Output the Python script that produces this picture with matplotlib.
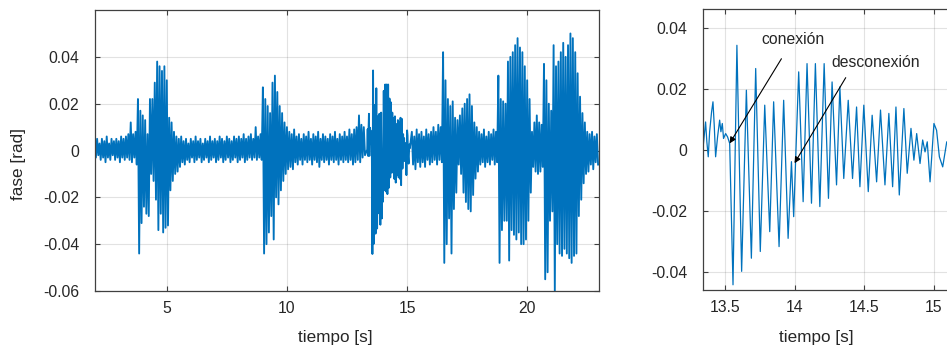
import numpy as np
import matplotlib
matplotlib.use("Agg")
import matplotlib.pyplot as plt

plt.rcParams['font.family'] = ['Liberation Sans', 'DejaVu Sans']

BLUE = '#0072BD'
AXC = '#262626'

# left panel: upper / lower extremes (mrad) in 0.1 s bins
# segment A: 2.0 .. 13.2 s
hi_a = [4, 5, 3, 5, 4, 6, 3, 5, 4, 5, 4, 6, 5, 6, 7, 12, 7, 8,
        22, 17, 15, 13, 7, 22, 22, 29, 38, 36, 34, 36, 30, 14, 12, 8, 6, 5,
        6, 4, 5, 3, 5, 4, 6, 4, 5, 3, 5, 4, 6, 4, 5, 4, 6, 5, 4, 6, 5, 4, 6, 5,
        6, 5, 7, 5, 6, 7, 5, 10, 6, 7,
        27, 22, 19, 16, 29, 32, 25, 19, 16, 12, 10, 8, 7, 9, 6, 7, 5, 7, 6, 8,
        5, 7, 6, 8, 5, 7, 6, 5, 7, 6, 8, 5, 7, 6, 8, 6, 9, 7, 9, 10, 15, 11, 10]
lo_a = [-3, -2, -4, -3, -5, -3, -4, -2, -4, -3, -5, -3, -4, -3, -4, -5, -3, -6,
        -44, -31, -24, -27, -28, -10, -13, -21, -34, -27, -35, -33, -32, -17, -13, -10, -9, -7,
        -5, -6, -4, -5, -3, -5, -4, -3, -5, -4, -3, -5, -4, -3, -5, -4, -3, -5, -4, -3, -5, -4, -3, -5,
        -4, -3, -5, -4, -3, -4, -3, -4, -3, -4,
        -44, -40, -35, -28, -38, -20, -23, -17, -13, -10, -8, -7, -8, -5, -6, -4, -6, -4, -5, -4,
        -6, -4, -5, -7, -4, -5, -4, -6, -4, -5, -4, -6, -4, -5, -4, -5, -4, -6, -5, -4, -5, -3, -2]
# segment C: 15.2 .. 22.9 s
hi_c = [8, 6, 9, 7, 8, 6, 9, 7, 8, 10, 8, 11, 10,
        42, 30, 22, 19, 21, 14, 13, 15, 18, 20, 22, 24, 19, 12, 10,
        8, 7, 9, 6, 8, 7, 9, 8,
        32, 22, 21, 20, 38, 40, 42, 45, 48, 44, 42, 36, 30, 22,
        8, 12, 15, 12, 11,
        37, 30, 20, 17, 45, 36, 38, 42, 46, 40, 45, 50, 48, 42, 33, 23, 16, 12,
        8, 7, 8, 6, 7]
lo_c = [-6, -8, -5, -7, -5, -7, -4, -6, -5, -4, -6, -4, -5,
        -48, -40, -29, -44, -25, -18, -6, -10, -18, -22, -25, -26, -19, -12, -9,
        -6, -5, -7, -5, -6, -4, -6, -5,
        -48, -34, -30, -30, -47, -34, -36, -38, -35, -40, -40, -38, -30, -18,
        -7, -9, -10, -9, -7,
        -55, -52, -30, -26, -60, -40, -44, -45, -42, -44, -46, -48, -45, -44, -28, -21, -14, -10,
        -9, -6, -8, -5, -6]

# zoomed window 13.34 .. 15.12 s (turning points)
t_zoom = [13.342, 13.361, 13.370, 13.380, 13.390, 13.404, 13.414, 13.423, 13.433,
          13.447, 13.462, 13.471, 13.481, 13.490, 13.505, 13.519, 13.534,
          13.558, 13.586, 13.620, 13.654, 13.690, 13.721, 13.754, 13.786,
          13.822, 13.850, 13.889, 13.922, 13.954, 13.978, 13.994, 14.030,
          14.062, 14.090, 14.122, 14.150, 14.182, 14.213, 14.244, 14.270,
          14.302, 14.326, 14.354, 14.386, 14.417, 14.446, 14.470, 14.498,
          14.530, 14.558, 14.590, 14.618, 14.650, 14.678, 14.705, 14.729,
          14.753, 14.786, 14.810, 14.837, 14.858, 14.878, 14.902, 14.921,
          14.938, 14.954, 14.974, 15.002, 15.021, 15.041, 15.065, 15.094, 15.118]
v_zoom = [0.0004, 0.0091, 0.0026, -0.0023, 0.0059, 0.0124, 0.0157, 0.0081, -0.0023,
          0.0042, 0.0097, 0.0059, 0.0086, 0.0037, 0.0053, 0.0042, 0.0021,
          -0.0442, 0.0342, -0.0398, 0.0195, -0.0355, 0.0266, -0.0333, 0.0146,
          -0.0268, 0.0157, -0.0317, 0.0162, -0.0290, -0.0039, -0.0219, 0.0255,
          -0.0170, 0.0282, -0.0175, 0.0282, -0.0186, 0.0282, -0.0159, 0.0222,
          -0.0115, 0.0206, -0.0094, 0.0162, -0.0094, 0.0140, -0.0121, 0.0146,
          -0.0137, 0.0113, -0.0105, 0.0130, -0.0115, 0.0119, -0.0121, 0.0140,
          -0.0148, 0.0135, -0.0077, 0.0070, -0.0034, 0.0053, -0.0045, 0.0032,
          -0.0007, 0.0026, -0.0105, 0.0086, 0.0064, -0.0023, -0.0056, 0.0026, 0.0010]


def zigzag(t0, hi, lo):
    t = t0 + 0.1 * np.arange(len(hi))
    tt = np.column_stack([t, t + 0.05]).ravel()
    vv = np.column_stack([hi, lo]).ravel() / 1000.0
    return tt, vv


ta, va = zigzag(2.0, hi_a, lo_a)
tc, vc = zigzag(15.2, hi_c, lo_c)
t_all = np.concatenate([ta, t_zoom, tc])
v_all = np.concatenate([va, v_zoom, vc])

fig = plt.figure(figsize=(9.47, 3.5), dpi=100)
ax1 = fig.add_axes([0.1, 0.1686, 0.5328, 0.802])
ax2 = fig.add_axes([0.742, 0.1706, 0.2733, 0.803])

for ax in (ax1, ax2):
    ax.grid(True, color=AXC, alpha=0.13, lw=0.8)
    ax.set_axisbelow(True)
    for s in ax.spines.values():
        s.set_color('#404040')
        s.set_linewidth(0.9)
    ax.tick_params(direction='in', length=3.6, width=0.8, colors='#404040',
                   labelcolor='#262626', labelsize=11.3, top=True, right=True)
    ax.tick_params(axis='y', pad=11)
    ax.tick_params(axis='x', pad=7)

ax1.plot(t_all, v_all, color=BLUE, lw=1.35)
ax1.set_xlim(2, 23)
ax1.set_ylim(-0.06, 0.0599)
ax1.set_xticks([5, 10, 15, 20])
ax1.set_yticks([-0.06, -0.04, -0.02, 0, 0.02, 0.04])
ax1.set_yticklabels(['-0.06', '-0.04', '-0.02', '0', '0.02', '0.04'])
ax1.set_xlabel('tiempo [s]', fontsize=12.3, color='#262626')
ax1.xaxis.set_label_coords(0.476, -0.167)
ax1.xaxis.label.set_verticalalignment('center')
ax1.set_ylabel('fase [rad]', fontsize=12.3, color='#262626')
ax1.yaxis.set_label_coords(-0.152, 0.452)
ax1.yaxis.label.set_verticalalignment('center')

ax2.plot(t_zoom, v_zoom, color=BLUE, lw=0.9)
ax2.set_xlim(13.34, 15.2)
ax2.set_ylim(-0.046, 0.046)
ax2.set_xticks([13.5, 14, 14.5, 15])
ax2.set_xticklabels(['13.5', '14', '14.5', '15'])
ax2.set_yticks([-0.04, -0.02, 0, 0.02, 0.04])
ax2.set_yticklabels(['-0.04', '-0.02', '0', '0.02', '0.04'])
ax2.set_xlabel('tiempo [s]', fontsize=12.3, color='#262626')
ax2.xaxis.set_label_coords(0.438, -0.167)
ax2.xaxis.label.set_verticalalignment('center')

arrow = dict(arrowstyle='-|>', color='k', lw=0.8, mutation_scale=9, shrinkA=0, shrinkB=0)
ax2.annotate('', xy=(13.534, 0.0021), xytext=(13.906, 0.0298), arrowprops=arrow)
ax2.annotate('', xy=(14.0, -0.0044), xytext=(14.368, 0.0236), arrowprops=arrow)
ax2.text(13.986, 0.0361, 'conexión', fontsize=11.3, ha='center', va='center', color='#262626')
ax2.text(14.584, 0.0285, 'desconexión', fontsize=11.3, ha='center', va='center', color='#262626')

fig.savefig('out.png', dpi=100)
